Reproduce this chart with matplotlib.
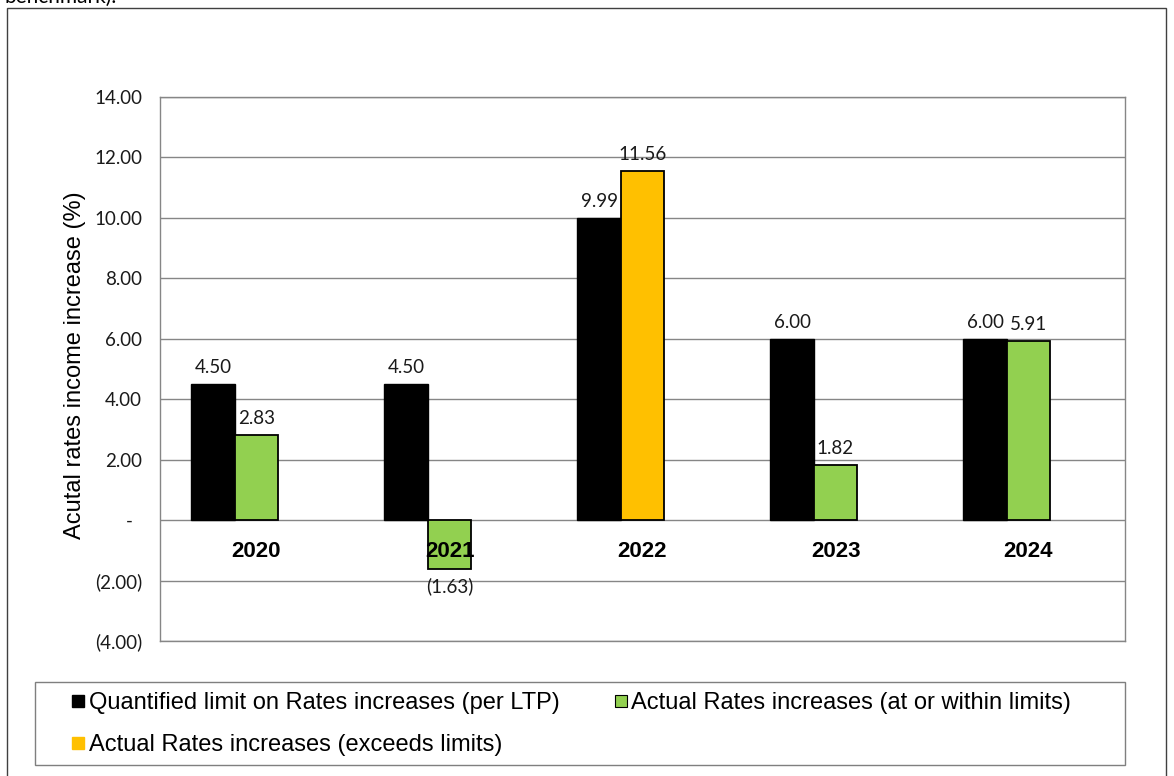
import numpy as np
import matplotlib
matplotlib.use("Agg")
import matplotlib.pyplot as plt
from matplotlib.lines import Line2D
from matplotlib.patches import Rectangle

# rates increases per year: LTP limit vs actual
years = ["2020", "2021", "2022", "2023", "2024"]
limit = [4.50, 4.50, 9.99, 6.00, 6.00]
actual = [2.83, -1.63, 11.56, 1.82, 5.91]
y_ticks = [-4, -2, 0, 2, 4, 6, 8, 10, 12, 14]

LIMIT_LABEL = "Quantified limit on Rates increases (per LTP)"
WITHIN_LABEL = "Actual Rates increases (at or within limits)"
EXCEEDS_LABEL = "Actual Rates increases (exceeds limits)"
Y_LABEL = "Acutal rates income increase (%)"

BLACK = "#000000"
GREEN = "#92D050"
AMBER = "#FFC000"
GRID = "#868686"
NUM_FONT = "Lato"
TXT_FONT = "Liberation Sans"

W, H = 1174, 776


def acct(v, zero="-"):
    # accounting style: negatives in brackets, zero as a dash
    if v == 0:
        return zero
    s = f"{abs(v):.2f}"
    return f"({s})" if v < 0 else s


fig = plt.figure(figsize=(W / 100, H / 100), dpi=100)
ax = fig.add_axes([160 / W, (H - 641) / H, 965 / W, 544 / H])

x = np.arange(len(years))
lim = np.array(limit)
act = np.array(actual)
over = act > lim
w = 0.225

ax.bar(x - w, lim, w, color=BLACK, edgecolor=BLACK, lw=1, zorder=3)
ax.bar(x[~over], act[~over], w, color=GREEN, edgecolor=BLACK, lw=1.3, zorder=3)
ax.bar(x[over], act[over], w, color=AMBER, edgecolor=BLACK, lw=1.3, zorder=3)

for xs, vals in ((x - w, lim), (x, act)):
    for xi, v in zip(xs, vals):
        ax.annotate(acct(v), (xi, v), xytext=(0, 8 if v >= 0 else -8),
                    textcoords="offset pixels", ha="center",
                    va="bottom" if v >= 0 else "top",
                    fontsize=13.5, family=NUM_FONT, color="#1a1a1a", zorder=5)

for xi, yr in zip(x, years):
    ax.annotate(yr, (xi, 0), xytext=(0, -31), textcoords="offset pixels",
                ha="center", va="center", fontsize=16, fontweight="bold",
                family=TXT_FONT, zorder=6)

ax.set_xlim(-0.5, len(years) - 0.5)
ax.set_ylim(y_ticks[0], y_ticks[-1])
ax.set_xticks([])
ax.set_yticks(y_ticks)
ax.set_yticklabels([acct(t, zero="-  ") for t in y_ticks],
                   family=NUM_FONT, fontsize=13.5, color="#1a1a1a")
ax.tick_params(axis="y", length=0, pad=13)
ax.grid(axis="y", color=GRID, lw=1, zorder=0)
ax.set_axisbelow(True)
for s in ax.spines.values():
    s.set_color(GRID)
    s.set_linewidth(1)

ax.set_ylabel(Y_LABEL, family=TXT_FONT, fontsize=17)
ax.yaxis.set_label_coords(-0.077, 0.507)

handles = [
    Line2D([], [], ls="none", marker="s", ms=8.6, mfc=BLACK, mec=BLACK,
           label=LIMIT_LABEL),
    Line2D([], [], ls="none", marker="s", ms=8.6, mfc=AMBER, mec=AMBER,
           label=EXCEEDS_LABEL),
    Line2D([], [], ls="none", marker="s", ms=8.6, mfc=GREEN, mec=BLACK,
           mew=0.8, label=WITHIN_LABEL),
]
fig.legend(handles=handles, ncol=2, frameon=False, loc="upper left",
           bbox_to_anchor=(71 / W, 1 - 692 / H), borderpad=0,
           borderaxespad=0, handlelength=0.6, handletextpad=0.15,
           columnspacing=2.3, labelspacing=0.86,
           prop={"family": TXT_FONT, "size": 17})

# legend box and outer chart border
fig.add_artist(Rectangle((35 / W, 1 - 765 / H), 1090 / W, 83 / H,
                         transform=fig.transFigure, fill=False,
                         ec="#7f7f7f", lw=1))
fig.add_artist(Rectangle((6.5 / W, -0.05), 1159.5 / W, 1.05 - 8.5 / H,
                         transform=fig.transFigure, fill=False,
                         ec="#404040", lw=1))

fig.text(5 / W, 1 - 3 / H, "benchmark).", family=NUM_FONT, fontsize=15,
         va="baseline", ha="left")

fig.savefig("out.png", dpi=100)
